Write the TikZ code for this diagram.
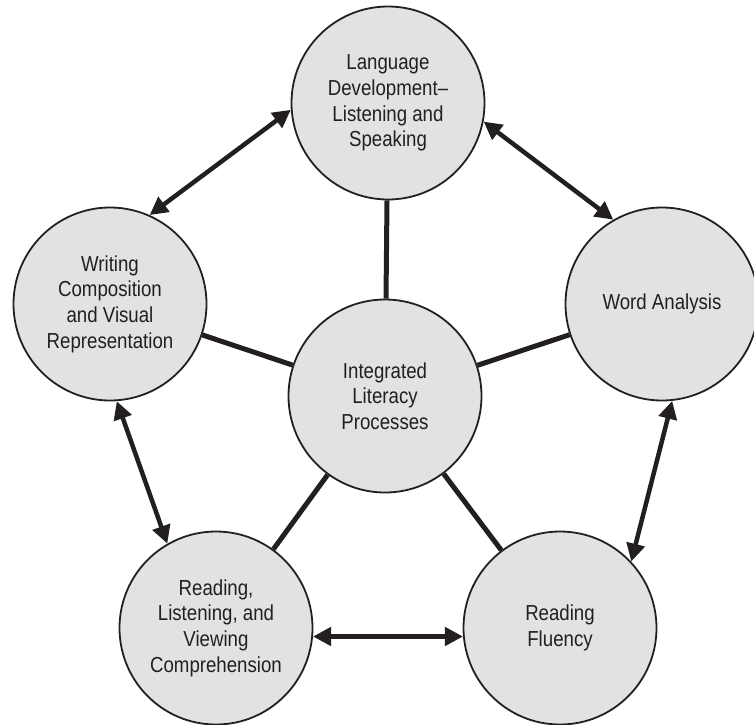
\documentclass[tikz,border=0pt]{standalone}
\usepackage{fontspec}
\setmainfont{Liberation Sans}[FakeStretch=0.86]
\usetikzlibrary{arrows.meta}
\definecolor{circfill}{RGB}{225,226,228}
\definecolor{ink}{RGB}{35,31,32}
\begin{document}
\begin{tikzpicture}[x=1pt,y=-1pt,
  circ/.style={circle,draw=ink,line width=1.8pt,fill=circfill,minimum size=193pt,
    inner sep=0pt,align=center,font=\fontsize{21.7}{25.7}\selectfont,text=ink},
  spoke/.style={draw=ink,line width=5pt},
  biarrow/.style={draw=ink,line width=4.5pt,
    {Triangle[length=18pt,width=18pt]}-{Triangle[length=18pt,width=18pt]}}]
\useasboundingbox (0,0) rectangle (754,724);
\node[circ] (L)  at (388,103) {Language\\Development–\\Listening and\\Speaking};
\node[circ] (W)  at (110,304) {Writing\\Composition\\and Visual\\Representation};
\node[circ] (WA) at (662,304) {Word Analysis};
\node[circ] (I)  at (385,396) {Integrated\\Literacy\\Processes};
\node[circ] (R)  at (216,628) {Reading,\\Listening, and\\Viewing\\Comprehension};
\node[circ] (F)  at (560,628) {Reading\\Fluency};
\draw[spoke] (I) -- (L);
\draw[spoke] (I) -- (W);
\draw[spoke] (I) -- (WA);
\draw[spoke] (I) -- (R);
\draw[spoke] (I) -- (F);
\draw[biarrow] (L.184) -- (W.66.5);
\draw[biarrow] (L.349) -- (WA.120);
\draw[biarrow] (W.274) -- (R.120.7);
\draw[biarrow] (R.355) -- (F.185);
\draw[biarrow] (F.43) -- (WA.276);
\end{tikzpicture}
\end{document}
